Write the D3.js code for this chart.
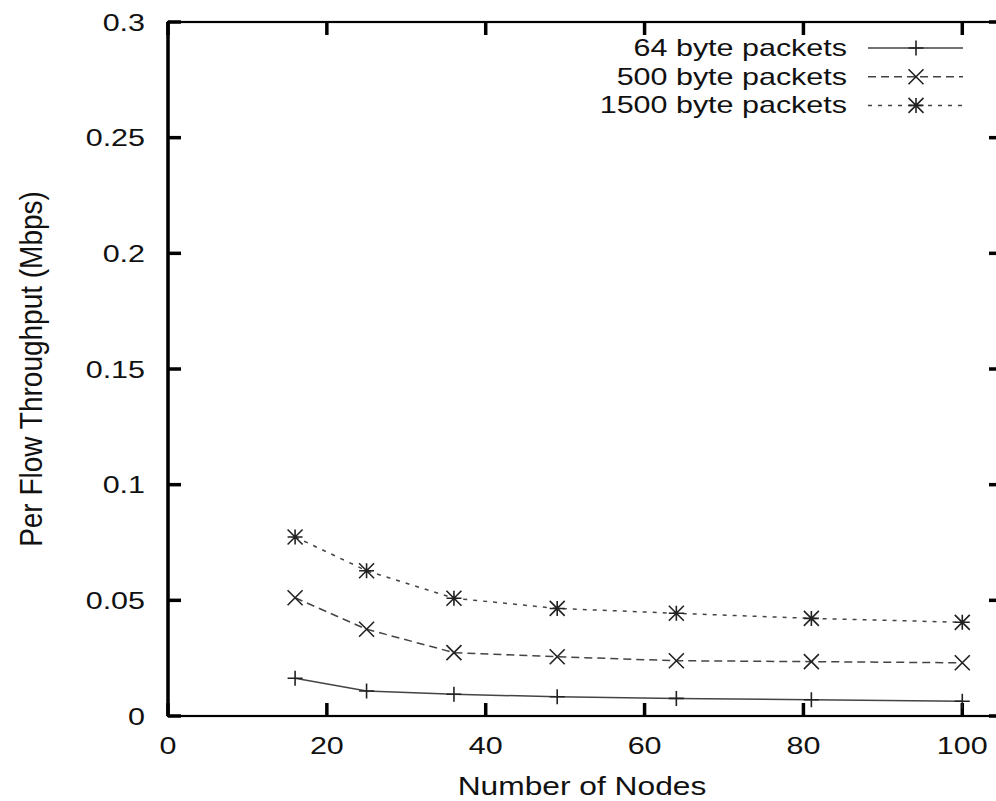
<!DOCTYPE html>
<html>
<head>
<meta charset="utf-8">
<script src="https://cdn.jsdelivr.net/npm/d3@7"></script>
<style>
  body { margin: 0; background: #fff; }
  text { font-family: "Liberation Sans", Arial, sans-serif; fill: #111; }
</style>
</head>
<body>
<div id="chart"></div>
<script>
// data
const nodes = [16, 25, 36, 49, 64, 81, 100]
const tput64 = [0.0163, 0.0108, 0.0094, 0.0083, 0.0076, 0.0070, 0.0064]
const tput500 = [0.0511, 0.0375, 0.0274, 0.0256, 0.0239, 0.0235, 0.0230]
const tput1500 = [0.0774, 0.0628, 0.0509, 0.0465, 0.0444, 0.0422, 0.0405]
const seriesNames = ['64 byte packets', '500 byte packets', '1500 byte packets']
const xTicks = [0, 20, 40, 60, 80, 100]
const yTicks = [0, 0.05, 0.1, 0.15, 0.2, 0.25, 0.3]

const W = 996, H = 801
const margin = {left: 168, top: 22, right: -6, bottom: 85}

const svg = d3.select('#chart').append('svg')
    .attr('width', W)
    .attr('height', H)

const x = d3.scaleLinear().domain([0, 105]).range([margin.left, W - margin.right])
const y = d3.scaleLinear().domain([0, 0.3]).range([H - margin.bottom, margin.top])

const series = [
    {name: seriesNames[0], values: tput64, dash: null, marker: 'plus'},
    {name: seriesNames[1], values: tput500, dash: '8,5', marker: 'cross'},
    {name: seriesNames[2], values: tput1500, dash: '4,6', marker: 'star'}
]

// the original text is stretched sideways
const fs = 24
const sx = 1.27
const tickLen = 13

const label = (px, py, str, anchor, size) => svg.append('text')
    .attr('transform', `translate(${px},${py}) scale(${sx},1)`)
    .attr('text-anchor', anchor).attr('font-size', size || fs)
    .text(str)

// ticks on all four sides
const tickG = svg.append('g').attr('stroke', '#000').attr('stroke-width', 3.5)
xTicks.forEach(t => {
    tickG.append('line').attr('x1', x(t)).attr('x2', x(t)).attr('y1', y(0)).attr('y2', y(0) - tickLen)
    tickG.append('line').attr('x1', x(t)).attr('x2', x(t)).attr('y1', y(0.3)).attr('y2', y(0.3) + tickLen)
})
yTicks.forEach(t => {
    tickG.append('line').attr('x1', x(0)).attr('x2', x(0) + tickLen).attr('y1', y(t)).attr('y2', y(t))
    tickG.append('line').attr('x1', x(105)).attr('x2', x(105) - tickLen).attr('y1', y(t)).attr('y2', y(t))
})

// border
svg.append('rect')
    .attr('x', x(0)).attr('y', y(0.3))
    .attr('width', x(105) - x(0)).attr('height', y(0) - y(0.3))
    .attr('fill', 'none').attr('stroke', '#000').attr('stroke-width', 2.2)
svg.append('line')
    .attr('x1', x(0)).attr('x2', x(0)).attr('y1', y(0.3)).attr('y2', y(0))
    .attr('stroke', '#000').attr('stroke-width', 3.5)

// tick labels
xTicks.forEach(t => label(x(t), y(0) + 38, t, 'middle'))
yTicks.forEach(t => label(x(0) - 23, y(t) + 8.5, t, 'end'))

// axis titles
label(582, 795, 'Number of Nodes', 'middle', 25)
svg.append('text')
    .attr('transform', `translate(42,${(y(0) + y(0.3)) / 2}) scale(1.1,1) rotate(-90)`)
    .attr('text-anchor', 'middle').attr('font-size', 28)
    .text('Per Flow Throughput (Mbps)')

const drawMarker = (g, type, cx, cy) => {
    const r = 7.5
    let d = ''
    if (type === 'plus' || type === 'star') d += `M${cx - r},${cy}H${cx + r}M${cx},${cy - r}V${cy + r}`
    if (type === 'cross' || type === 'star') d += `M${cx - r},${cy - r}L${cx + r},${cy + r}M${cx - r},${cy + r}L${cx + r},${cy - r}`
    g.append('path').attr('d', d).attr('stroke', '#222').attr('stroke-width', 1.6).attr('fill', 'none')
}

const line = d3.line().x(d => x(d[0])).y(d => y(d[1]))

series.forEach(s => {
    const pts = nodes.map((n, i) => [n, s.values[i]])
    const g = svg.append('g')
    g.append('path').datum(pts)
        .attr('d', line)
        .attr('fill', 'none').attr('stroke', '#444').attr('stroke-width', 1.5)
        .attr('stroke-dasharray', s.dash)
    pts.forEach(p => drawMarker(g, s.marker, x(p[0]), y(p[1])))
})

// legend
const legX = 847, legY = 48, legStep = 28.7
series.forEach((s, i) => {
    const ly = legY + i * legStep
    label(legX, ly + 8, s.name, 'end')
    svg.append('line')
        .attr('x1', 868).attr('x2', 963).attr('y1', ly).attr('y2', ly)
        .attr('stroke', '#444').attr('stroke-width', 1.5)
        .attr('stroke-dasharray', s.dash)
    drawMarker(svg, s.marker, 916, ly)
})
</script>
</body>
</html>
